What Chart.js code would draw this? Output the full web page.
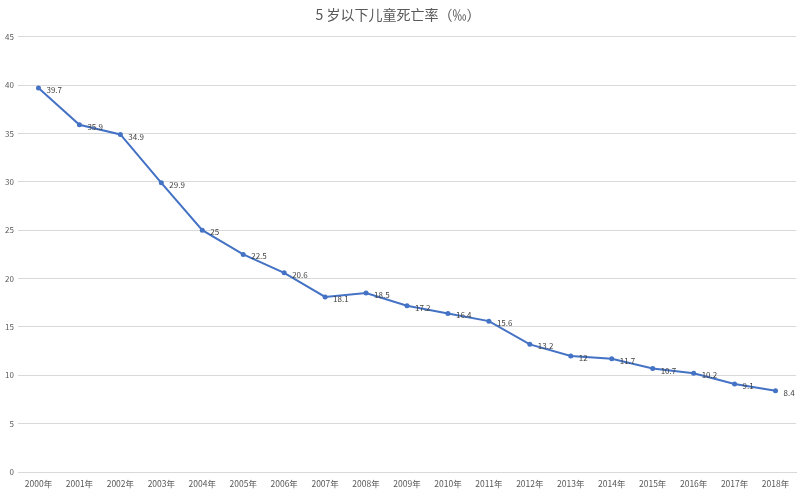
<!DOCTYPE html>
<html><head><meta charset="utf-8">
<script src="https://cdn.jsdelivr.net/npm/chart.js@4/dist/chart.umd.min.js"></script>
<style>html,body{margin:0;padding:0;background:#fff}#wrap{width:804px;height:492px}</style>
</head><body><div id="wrap"><canvas id="c"></canvas></div>
<script>
const categories = ["2000年","2001年","2002年","2003年","2004年","2005年","2006年","2007年","2008年","2009年","2010年","2011年","2012年","2013年","2014年","2015年","2016年","2017年","2018年"];
const mortality = [39.7,35.9,34.9,29.9,25,22.5,20.6,18.1,18.5,17.2,16.4,15.6,13.2,12,11.7,10.7,10.2,9.1,8.4];
const titleText = "5 岁以下儿童死亡率（‰）";
const FONT = "'Noto Sans CJK SC','Noto Sans',sans-serif";

const labelPlugin = {
  id: 'labels',
  afterDatasetsDraw(chart) {
    const ctx = chart.ctx;
    const meta = chart.getDatasetMeta(0);
    ctx.save();
    ctx.font = "8px " + FONT;
    ctx.fillStyle = "#404040";
    ctx.textAlign = "left";
    ctx.textBaseline = "middle";
    meta.data.forEach((p, i) => {
      ctx.fillText(String(mortality[i]), p.x + 8, p.y + 2);
    });
    ctx.restore();
  }
};

new Chart(document.getElementById('c'), {
  type: 'line',
  data: {
    labels: categories,
    datasets: [{
      data: mortality,
      borderColor: '#4472C4',
      backgroundColor: '#4472C4',
      borderWidth: 2,
      pointRadius: 2.5,
      pointBorderWidth: 0,
      tension: 0
    }]
  },
  options: {
    responsive: true,
    maintainAspectRatio: false,
    animation: false,
    layout: { padding: { left: 0, right: 8, top: 6, bottom: 0 } },
    plugins: {
      legend: { display: false },
      tooltip: { enabled: false },
      title: {
        display: true,
        text: titleText,
        color: '#595959',
        font: { family: FONT, size: 14, weight: 'normal' },
        padding: { top: 0, bottom: 14 }
      }
    },
    scales: {
      x: {
        offset: true,
        grid: { display: false, drawTicks: false },
        border: { display: true, color: '#d9d9d9' },
        ticks: { color: '#595959', font: { family: FONT, size: 8.5 }, maxRotation: 0, autoSkip: false, padding: 7 },
        afterFit(s) { s.height = 20; }
      },
      y: {
        min: 0, max: 45,
        ticks: { stepSize: 5, color: '#595959', font: { family: FONT, size: 8 }, padding: 4 },
        grid: { color: '#d9d9d9', drawTicks: false },
        border: { display: false },
        afterFit(s) { s.width = 18; }
      }
    }
  },
  plugins: [labelPlugin]
});
</script></body></html>
